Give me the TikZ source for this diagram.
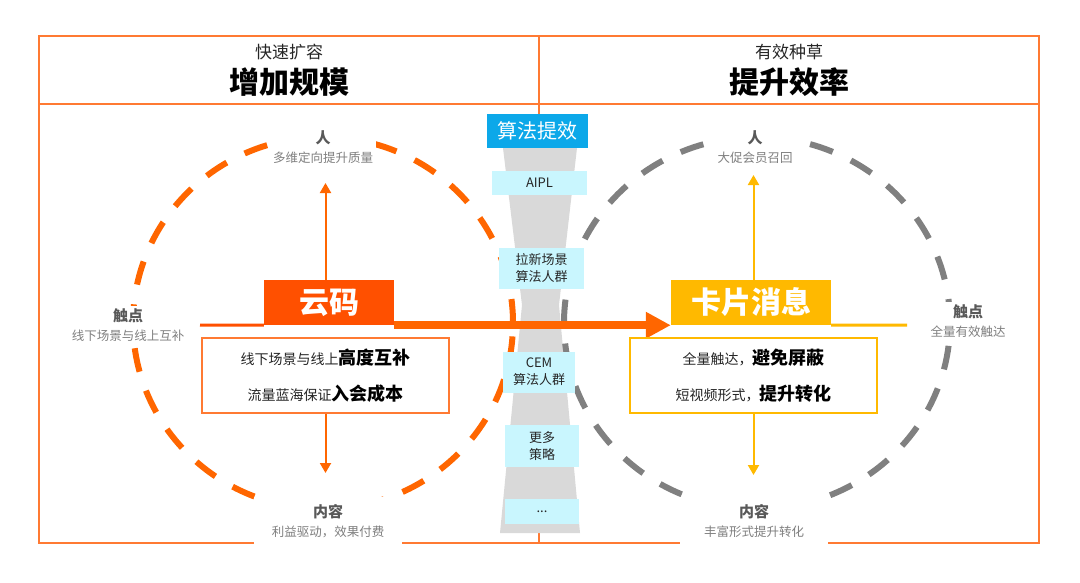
\documentclass[tikz,border=0pt]{standalone}
\usepackage{fontspec}
\setmainfont{Noto Sans CJK SC}
\usetikzlibrary{arrows.meta}
\definecolor{frameor}{HTML}{FF7A33}
\definecolor{codeor}{HTML}{FF5000}
\definecolor{dashor}{HTML}{FF6600}
\definecolor{amber}{HTML}{FFB900}
\definecolor{dashgr}{HTML}{808080}
\definecolor{algblue}{HTML}{0CA8E9}
\definecolor{stepcyan}{HTML}{C9F6FE}
\definecolor{funnelgr}{HTML}{D9D9D9}
\definecolor{lbltitle}{HTML}{595959}
\definecolor{lblsub}{HTML}{7F7F7F}
\newcommand{\tagtitle}[1]{{\color{lbltitle}\bfseries\fontsize{15}{19}\selectfont #1}}
\newcommand{\hl}[1]{{\color{black}\bfseries\fontsize{18}{36}\selectfont #1}}
\newcommand{\moredots}{...}

\begin{document}
\begin{tikzpicture}[x=1pt,y=-1pt,
  frame/.style={draw=frameor,line width=2pt},
  ring/.style={line width=6pt,dash pattern=on 24pt off 20pt},
  stepbox/.style={fill=stepcyan,align=center,inner sep=0pt,font=\fontsize{13}{17}\selectfont,text=black!85},
  tag/.style={fill=white,align=center,inner sep=3pt,font=\fontsize{12.5}{19}\selectfont,text=lblsub},
  bottag/.style={tag,minimum width=148pt,inner ysep=8pt},
  textbox/.style={fill=white,line width=1.3pt,minimum width=247pt,minimum height=75pt,align=center,font=\fontsize{14}{36}\selectfont,text=black!85},
  bigbox/.style={text=white,font=\fontsize{30}{30}\selectfont\bfseries,inner sep=0pt},
  vline/.style={line width=2pt,-{Triangle[width=11pt,length=10pt]}}
]
\useasboundingbox (0,0) rectangle (1080,582);

\draw[frame] (39,36) rectangle (1039,543);
\draw[frame] (39,104) -- (1039,104);
\draw[frame] (539,36) -- (539,543);

\node[font=\fontsize{17}{17}\selectfont,text=black!85] (lsub) at (289,52) {快速扩容};
\node[font=\fontsize{30}{30}\selectfont\bfseries] (lhead) at (289,82) {增加规模};
\node[font=\fontsize{17}{17}\selectfont,text=black!85] (rsub) at (789,52) {有效种草};
\node[font=\fontsize{30}{30}\selectfont\bfseries] (rhead) at (789,82) {提升效率};

\fill[funnelgr] (503,148) -- (577,148) -- (559,305) -- (580,533) -- (500,533) -- (522,305) -- cycle;

\draw[ring,dashor] (323,323) ellipse (190pt and 186pt);
\draw[ring,dashgr] (757,323) ellipse (193pt and 186pt);

\node[fill=algblue,text=white,minimum width=101pt,minimum height=34pt,inner sep=0pt,font=\fontsize{20}{20}\selectfont] (algo) at (537.5,131) {算法提效};

\foreach \nm/\cx/\cy/\w/\h/\txt in {aipl/539.5/183/95/24/AIPL, pull/541.5/268.5/85/41/{拉新场景\\算法人群}, cem/539/372/72/41/{CEM\\算法人群}, more/542/446/74/42/{更多\\策略}, etc/542/511.5/74/25/\moredots}
  \node[stepbox,minimum width=\w pt,minimum height=\h pt] (\nm) at (\cx,\cy) {\txt};

\node[bigbox,fill=codeor,minimum width=130pt,minimum height=45pt] (yun) at (329,302.5) {云码};
\node[bigbox,fill=amber,minimum width=160pt,minimum height=45pt] (card) at (751,302.5) {卡片消息};

\coordinate (lend) at (200,325);
\coordinate (rend) at (907,325);
\draw[codeor,line width=3pt] (lend) -- (yun.south west);
\draw[amber,line width=3pt] (card.south east) -- (rend);
\draw[dashor,line width=8pt,-{Triangle[width=25pt,length=25pt]}] (yun.south east) -- (card.south west);

\node[textbox,draw=frameor] (ltext) at (325.5,375.5) {线下场景与线上\hl{高度互补}\\流量蓝海保证\hl{入会成本}};
\node[textbox,draw=amber] (rtext) at (753.5,375.5) {全量触达，\hl{避免屏蔽}\\短视频形式，\hl{提升转化}};

\coordinate (ltop) at (325.5,183);
\coordinate (lbot) at (325.5,473);
\coordinate (rtop) at (753.5,175);
\coordinate (rbot) at (753.5,475);
\draw[vline,dashor] (ltext.north |- yun.north) -- (ltop);
\draw[vline,dashor] (ltext.south) -- (lbot);
\draw[vline,amber] (rtext.north |- card.north) -- (rtop);
\draw[vline,amber] (rtext.south) -- (rbot);

\node[tag] (lren) at (323,147) {\tagtitle{人}\\多维定向提升质量};
\node[tag] (ltouch) at (128,325) {\tagtitle{触点}\\线下场景与线上互补};
\node[bottag] (lcont) at (328,521.5) {\tagtitle{内容}\\利益驱动，效果付费};
\node[tag] (rren) at (755,147) {\tagtitle{人}\\大促会员召回};
\node[tag] (rtouch) at (968,321.5) {\tagtitle{触点}\\全量有效触达};
\node[bottag] (rcont) at (754,521.5) {\tagtitle{内容}\\丰富形式提升转化};
\end{tikzpicture}
\end{document}
